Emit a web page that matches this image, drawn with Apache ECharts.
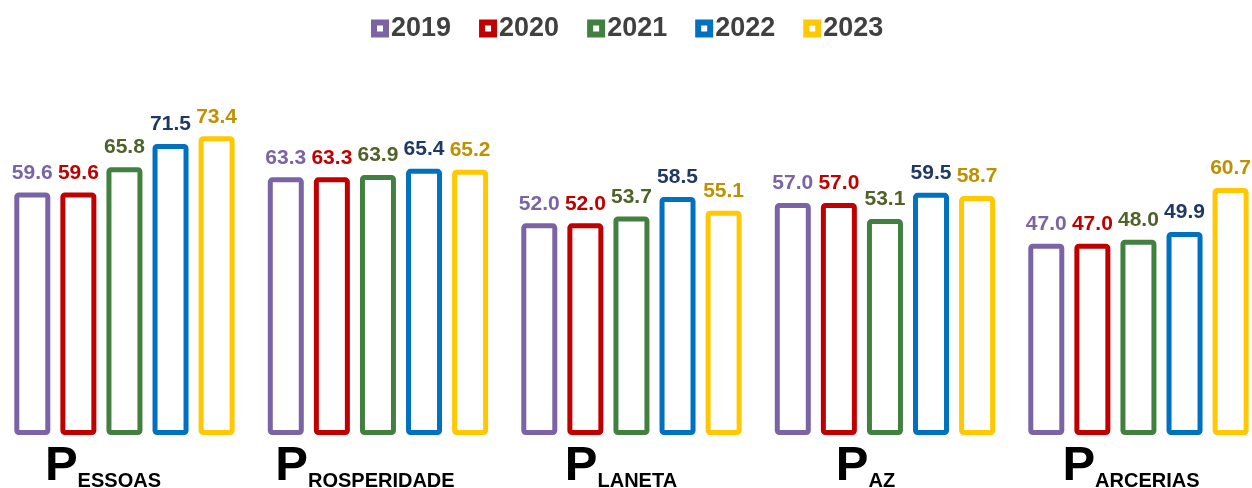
<!DOCTYPE html>
<html>
<head>
<meta charset="utf-8">
<script src="https://cdn.jsdelivr.net/npm/echarts@6/dist/echarts.min.js"></script>
<style>
  html, body { margin: 0; padding: 0; background: #fff; }
  #chart { width: 1252px; height: 488px; }
</style>
</head>
<body>
<div id="chart"></div>
<script>
// dados
var categorias = ['Pessoas', 'Prosperidade', 'Planeta', 'Paz', 'Parcerias'];
var anos = ['2019', '2020', '2021', '2022', '2023'];
var v2019 = [59.6, 63.3, 52.0, 57.0, 47.0];
var v2020 = [59.6, 63.3, 52.0, 57.0, 47.0];
var v2021 = [65.8, 63.9, 53.7, 53.1, 48.0];
var v2022 = [71.5, 65.4, 58.5, 59.5, 49.9];
var v2023 = [73.4, 65.2, 55.1, 58.7, 60.7];

var valores = [v2019, v2020, v2021, v2022, v2023];
var corBarra = ['#7B64A6', '#C00000', '#41803F', '#0070C0', '#FFC800'];
var corRotulo = ['#7B64A6', '#C00000', '#4F6228', '#1F3864', '#BF9000'];
// deslocamento horizontal dos nomes das categorias (caixas de texto no original)
var desloc = [43, 26, 21, 39, 15];

var fonte = 'Liberation Sans, Arial, sans-serif';

var series = anos.map(function (ano, i) {
    return {
        name: ano,
        type: 'bar',
        barWidth: 36,
        barGap: '28%',
        data: valores[i],
        itemStyle: {
            color: '#ffffff',
            borderColor: corBarra[i],
            borderWidth: 5,
            borderRadius: 2
        },
        label: {
            show: true,
            position: 'top',
            distance: 9,
            color: corRotulo[i],
            fontFamily: fonte,
            fontWeight: 'bold',
            fontSize: 21,
            formatter: function (p) { return p.value.toFixed(1); }
        }
    };
});

var chart = echarts.init(document.getElementById('chart'));
chart.setOption({
    animation: false,
    legend: {
        top: 10,
        left: 366,
        itemWidth: 12,
        itemHeight: 12,
        itemGap: 28,
        textStyle: {
            color: '#404040',
            fontFamily: fonte,
            fontWeight: 'bold',
            fontSize: 27
        },
        data: anos.map(function (a, i) {
            return {
                name: a,
                icon: 'rect',
                itemStyle: { color: '#ffffff', borderColor: corBarra[i], borderWidth: 6 }
            };
        })
    },
    grid: {
        left: -2.3,
        width: 1267.5,
        top: 109.4,
        height: 325.6,
        outerBoundsMode: 'none',
        containLabel: false
    },
    xAxis: {
        type: 'category',
        data: categorias.map(function (c, i) {
            return {
                value: c,
                textStyle: { padding: [0, desloc[i], 0, 0] }
            };
        }),
        axisLine: { show: false },
        axisTick: { show: false },
        axisLabel: {
            margin: 16,
            interval: 0,
            formatter: function (v) {
                return '{g|' + v.charAt(0).toUpperCase() + '}{p|' + v.slice(1).toUpperCase() + '}';
            },
            rich: {
                g: {
                    fontFamily: fonte,
                    fontWeight: 'bold',
                    fontSize: 49,
                    color: '#000',
                    verticalAlign: 'bottom',
                    lineHeight: 40
                },
                p: {
                    fontFamily: fonte,
                    fontWeight: 'bold',
                    fontSize: 20,
                    color: '#000',
                    verticalAlign: 'bottom',
                    lineHeight: 40
                }
            }
        }
    },
    yAxis: {
        type: 'value',
        min: 0,
        max: 80,
        show: false,
        splitLine: { show: false }
    },
    series: series
});
</script>
</body>
</html>
